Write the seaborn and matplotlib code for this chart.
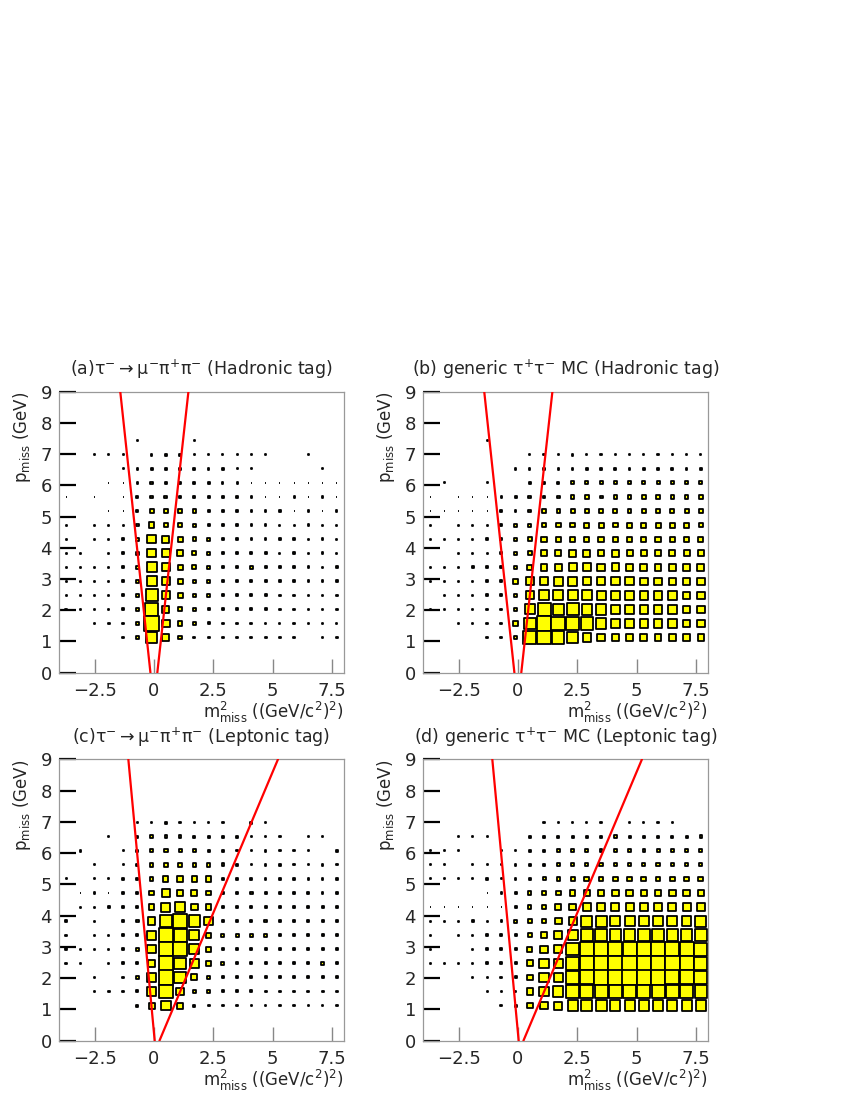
import numpy as np
import pandas as pd
import matplotlib
matplotlib.use("Agg")
import matplotlib.pyplot as plt
import seaborn as sns

# --- binning (20 x 20 bins, m2 in [-4, 8], p in [0, 9]) ---
m2_centers = [-3.7, -3.1, -2.5, -1.9, -1.3, -0.7, -0.1, 0.5, 1.1, 1.7,
              2.3, 2.9, 3.5, 4.1, 4.7, 5.3, 5.9, 6.5, 7.1, 7.7]
# rows listed from top (p = 7.425) to bottom (p = 1.125)
p_centers = [7.425, 6.975, 6.525, 6.075, 5.625, 5.175, 4.725, 4.275,
             3.825, 3.375, 2.925, 2.475, 2.025, 1.575, 1.125]

# --- cell contents ---
counts_a = [
    [0, 0, 0, 0, 0, 1, 0, 0, 0, 1, 0, 0, 0, 0, 0, 0, 0, 0, 0, 0],
    [0, 0, 1, 1, 1, 0, 4, 4, 3, 1, 1, 1, 1, 1, 1, 0, 0, 1, 0, 0],
    [0, 0, 0, 0, 1, 4, 5, 5, 5, 5, 4, 3, 1, 1, 0, 0, 0, 0, 1, 0],
    [0, 0, 0, 1, 1, 4, 9, 9, 6, 5, 5, 2, 2, 1, 1, 1, 1, 1, 1, 1],
    [1, 0, 1, 0, 1, 5, 11, 11, 9, 5, 5, 4, 4, 2, 1, 1, 2, 1, 2, 1],
    [0, 0, 0, 1, 1, 5, 21, 21, 17, 14, 6, 5, 4, 4, 2, 3, 1, 2, 1, 2],
    [1, 0, 1, 1, 2, 11, 45, 30, 17, 14, 6, 5, 4, 4, 4, 2, 2, 3, 1, 2],
    [1, 0, 1, 1, 4, 11, 102, 71, 34, 17, 11, 5, 5, 4, 4, 4, 4, 2, 4, 2],
    [1, 1, 0, 1, 5, 11, 102, 86, 45, 21, 11, 5, 5, 5, 5, 2, 4, 2, 4, 2],
    [1, 1, 1, 1, 5, 14, 139, 86, 34, 21, 11, 5, 5, 11, 5, 4, 4, 4, 2, 4],
    [1, 2, 3, 1, 5, 14, 139, 86, 34, 17, 11, 5, 5, 5, 5, 4, 4, 4, 4, 4],
    [1, 1, 1, 1, 5, 11, 206, 86, 34, 17, 11, 5, 5, 5, 5, 4, 4, 4, 4, 4],
    [3, 1, 1, 1, 5, 14, 231, 71, 25, 14, 6, 5, 5, 5, 5, 4, 4, 4, 4, 4],
    [0, 0, 1, 3, 4, 11, 300, 86, 25, 14, 6, 5, 5, 5, 4, 2, 4, 2, 4, 2],
    [0, 0, 0, 0, 5, 11, 170, 71, 17, 5, 5, 5, 5, 5, 5, 4, 4, 0, 4, 4],
]

counts_b = [
    [0, 0, 0, 0, 1, 0, 0, 0, 0, 0, 0, 0, 0, 0, 0, 0, 0, 0, 0, 0],
    [0, 0, 0, 0, 0, 0, 0, 1, 2, 2, 4, 2, 2, 2, 2, 2, 2, 2, 2, 2],
    [0, 0, 0, 0, 0, 0, 2, 2, 2, 2, 4, 4, 4, 4, 4, 4, 4, 4, 4, 4],
    [0, 1, 0, 0, 1, 0, 0, 5, 5, 5, 11, 11, 11, 11, 11, 11, 11, 11, 11, 11],
    [1, 0, 1, 1, 1, 2, 5, 9, 6, 11, 14, 17, 11, 14, 14, 14, 14, 14, 14, 14],
    [1, 1, 1, 1, 1, 4, 4, 9, 14, 14, 21, 21, 17, 17, 17, 21, 21, 21, 21, 21],
    [1, 0, 1, 1, 1, 4, 11, 11, 17, 25, 25, 30, 30, 25, 30, 30, 30, 30, 30, 21],
    [1, 1, 1, 1, 4, 4, 11, 14, 34, 34, 34, 34, 34, 34, 34, 34, 34, 34, 34, 34],
    [0, 0, 1, 1, 1, 4, 11, 25, 45, 45, 57, 57, 45, 57, 45, 45, 45, 45, 45, 45],
    [1, 1, 1, 3, 4, 4, 14, 34, 57, 57, 78, 78, 64, 71, 57, 57, 57, 57, 57, 64],
    [1, 1, 1, 1, 4, 4, 25, 78, 86, 94, 94, 86, 86, 86, 86, 71, 71, 71, 71, 71],
    [0, 1, 1, 1, 4, 4, 17, 78, 120, 120, 120, 120, 102, 86, 86, 86, 86, 86, 71, 71],
    [1, 1, 1, 1, 4, 4, 17, 120, 206, 160, 182, 139, 139, 102, 86, 86, 86, 86, 71, 71],
    [0, 0, 1, 1, 4, 4, 25, 170, 257, 231, 231, 182, 139, 102, 86, 86, 86, 86, 71, 71],
    [0, 0, 0, 0, 4, 4, 17, 206, 231, 182, 139, 86, 71, 71, 57, 57, 57, 57, 57, 45],
]

counts_c = [
    [0, 0, 0, 0, 0, 0, 0, 0, 0, 0, 0, 0, 0, 0, 0, 0, 0, 0, 0, 0],
    [0, 0, 0, 0, 0, 1, 2, 4, 2, 2, 2, 2, 0, 4, 2, 0, 0, 0, 0, 0],
    [0, 0, 0, 1, 0, 4, 9, 9, 9, 5, 4, 4, 4, 2, 2, 3, 0, 1, 1, 0],
    [0, 3, 0, 0, 1, 4, 11, 14, 11, 9, 5, 4, 2, 2, 3, 2, 2, 2, 0, 3],
    [0, 0, 1, 0, 1, 5, 14, 25, 25, 14, 14, 9, 4, 2, 3, 3, 2, 2, 3, 2],
    [1, 0, 1, 1, 3, 4, 14, 34, 34, 34, 34, 5, 4, 4, 2, 4, 2, 3, 2, 5],
    [0, 1, 3, 1, 3, 5, 25, 71, 45, 45, 30, 5, 9, 9, 4, 4, 4, 4, 2, 2],
    [0, 1, 1, 3, 3, 4, 34, 102, 120, 57, 34, 5, 4, 4, 4, 4, 9, 4, 5, 4],
    [3, 0, 1, 0, 4, 9, 71, 160, 231, 160, 86, 9, 5, 5, 9, 5, 4, 4, 4, 4],
    [2, 0, 1, 1, 4, 5, 102, 231, 206, 120, 34, 11, 11, 9, 9, 5, 5, 4, 4, 4],
    [3, 1, 1, 1, 4, 9, 86, 257, 231, 120, 34, 5, 5, 5, 5, 5, 4, 4, 4, 4],
    [2, 1, 0, 1, 4, 5, 71, 257, 160, 102, 30, 11, 5, 5, 5, 5, 4, 4, 9, 4],
    [0, 0, 2, 0, 2, 9, 86, 257, 160, 45, 9, 5, 5, 5, 4, 4, 4, 4, 4, 4],
    [0, 0, 2, 2, 2, 5, 86, 231, 71, 17, 9, 5, 5, 5, 4, 4, 4, 4, 4, 4],
    [0, 0, 0, 0, 0, 5, 45, 120, 45, 5, 4, 4, 2, 3, 2, 2, 2, 2, 2, 2],
]

counts_d = [
    [0, 0, 0, 0, 0, 0, 0, 0, 0, 0, 0, 0, 0, 0, 0, 0, 0, 0, 0, 0],
    [0, 0, 0, 0, 0, 0, 0, 0, 2, 2, 2, 2, 2, 0, 2, 2, 2, 2, 0, 0],
    [0, 0, 1, 1, 1, 0, 0, 4, 4, 4, 5, 5, 5, 9, 5, 5, 5, 5, 5, 9],
    [1, 1, 1, 0, 0, 1, 1, 4, 5, 9, 9, 11, 9, 9, 9, 9, 11, 11, 11, 11],
    [1, 1, 0, 1, 1, 2, 4, 5, 9, 11, 14, 14, 14, 14, 14, 14, 14, 14, 14, 14],
    [1, 1, 1, 1, 3, 1, 4, 9, 11, 17, 21, 30, 30, 30, 30, 30, 30, 30, 30, 30],
    [0, 0, 0, 0, 1, 3, 5, 14, 21, 30, 45, 45, 57, 57, 57, 57, 57, 57, 57, 57],
    [1, 1, 1, 1, 1, 1, 5, 14, 25, 45, 57, 86, 86, 86, 86, 86, 86, 86, 86, 86],
    [1, 1, 1, 3, 1, 3, 11, 21, 30, 57, 86, 160, 160, 139, 139, 139, 139, 139, 120, 160],
    [1, 0, 1, 1, 3, 4, 5, 21, 57, 86, 139, 206, 206, 182, 182, 206, 206, 182, 182, 206],
    [1, 0, 0, 1, 4, 4, 5, 30, 71, 86, 206, 257, 257, 257, 257, 257, 257, 257, 257, 231],
    [1, 1, 1, 1, 4, 4, 5, 45, 120, 120, 231, 257, 280, 280, 280, 280, 280, 280, 257, 231],
    [0, 0, 0, 1, 1, 4, 5, 45, 120, 120, 231, 257, 280, 280, 280, 280, 280, 257, 257, 231],
    [0, 0, 0, 0, 1, 1, 4, 57, 120, 139, 206, 231, 231, 231, 231, 231, 231, 231, 231, 206],
    [0, 0, 0, 0, 0, 4, 5, 45, 71, 86, 139, 160, 160, 139, 139, 139, 139, 139, 139, 139],
]

# --- kinematic boundary lines (m2, p end points) ---
had_left_m2, had_left_p = [-0.15, -1.42], [0.0, 9.0]
had_right_m2, had_right_p = [0.14, 1.45], [0.0, 9.0]
lep_left_m2, lep_left_p = [0.03, -1.08], [0.0, 9.0]
lep_right_m2, lep_right_p = [0.23, 5.22], [0.0, 9.0]

titles = [
    r"(a)$\tau^{-}\rightarrow\mu^{-}\pi^{+}\pi^{-}$ (Hadronic tag)",
    r"(b) generic $\tau^{+}\tau^{-}$ MC (Hadronic tag)",
    r"(c)$\tau^{-}\rightarrow\mu^{-}\pi^{+}\pi^{-}$ (Leptonic tag)",
    r"(d) generic $\tau^{+}\tau^{-}$ MC (Leptonic tag)",
]
x_ticks = [-2.5, 0, 2.5, 5, 7.5]
x_ticklabels = ["\u22122.5", "0", "2.5", "5", "7.5"]
y_ticks = list(range(10))

sns.set_theme(style="white")
plt.rcParams["font.family"] = ["DejaVu Sans"]
plt.rcParams["mathtext.default"] = "regular"


def to_frame(counts):
    df = pd.DataFrame(counts, index=p_centers, columns=m2_centers)
    df = df.stack().reset_index()
    df.columns = ["p", "m2", "n"]
    return df[df["n"] > 0]


fig = plt.figure(figsize=(8.5, 11), dpi=100)
positions = [
    [0.0694, 0.3885, 0.3353, 0.2555],
    [0.4976, 0.3885, 0.3353, 0.2555],
    [0.0694, 0.0539, 0.3353, 0.2558],
    [0.4976, 0.0539, 0.3353, 0.2558],
]
panels = [counts_a, counts_b, counts_c, counts_d]
lines = [
    [(had_left_m2, had_left_p), (had_right_m2, had_right_p)],
    [(had_left_m2, had_left_p), (had_right_m2, had_right_p)],
    [(lep_left_m2, lep_left_p), (lep_right_m2, lep_right_p)],
    [(lep_left_m2, lep_left_p), (lep_right_m2, lep_right_p)],
]

for pos, counts, title, segs in zip(positions, panels, titles, lines):
    ax = fig.add_axes(pos)
    df = to_frame(counts)
    sns.scatterplot(data=df, x="m2", y="p", size="n", sizes=(0, 108),
                    size_norm=(0, df["n"].max()), marker="s",
                    color="#ffff00", edgecolor="black", linewidth=1.3,
                    legend=False, ax=ax, zorder=2)
    for lx, ly in segs:
        sns.lineplot(x=lx, y=ly, color="#ff0000", linewidth=1.6,
                     sort=False, estimator=None, ax=ax, zorder=3)

    ax.set_xlim(-4, 8)
    ax.set_ylim(0, 9)
    ax.set_xticks(x_ticks)
    ax.set_xticklabels(x_ticklabels)
    ax.set_yticks(y_ticks)
    ax.tick_params(axis="x", direction="in", length=10, width=1,
                   color="#888888", labelsize=13, pad=7, bottom=True)
    ax.tick_params(axis="y", direction="in", length=12, width=1.6,
                   color="black", labelsize=13, pad=5, left=True)
    for sp in ax.spines.values():
        sp.set_color("#999999")
        sp.set_linewidth(0.9)

    ax.set_ylabel(r"p$_{\mathrm{miss}}$ (GeV)", fontsize=12, loc="top")
    ax.yaxis.set_label_coords(-0.092, 1.0)
    ax.set_xlabel(r"m$^{2}_{\mathrm{miss}}$ ((GeV/c$^{2}$)$^{2}$)",
                  fontsize=12, loc="right")
    ax.xaxis.set_label_coords(1.0, -0.098)
    ax.text(0.5, 1.078, title, transform=ax.transAxes, ha="center",
            va="center", fontsize=12.5)

fig.savefig("out.png", dpi=100)
